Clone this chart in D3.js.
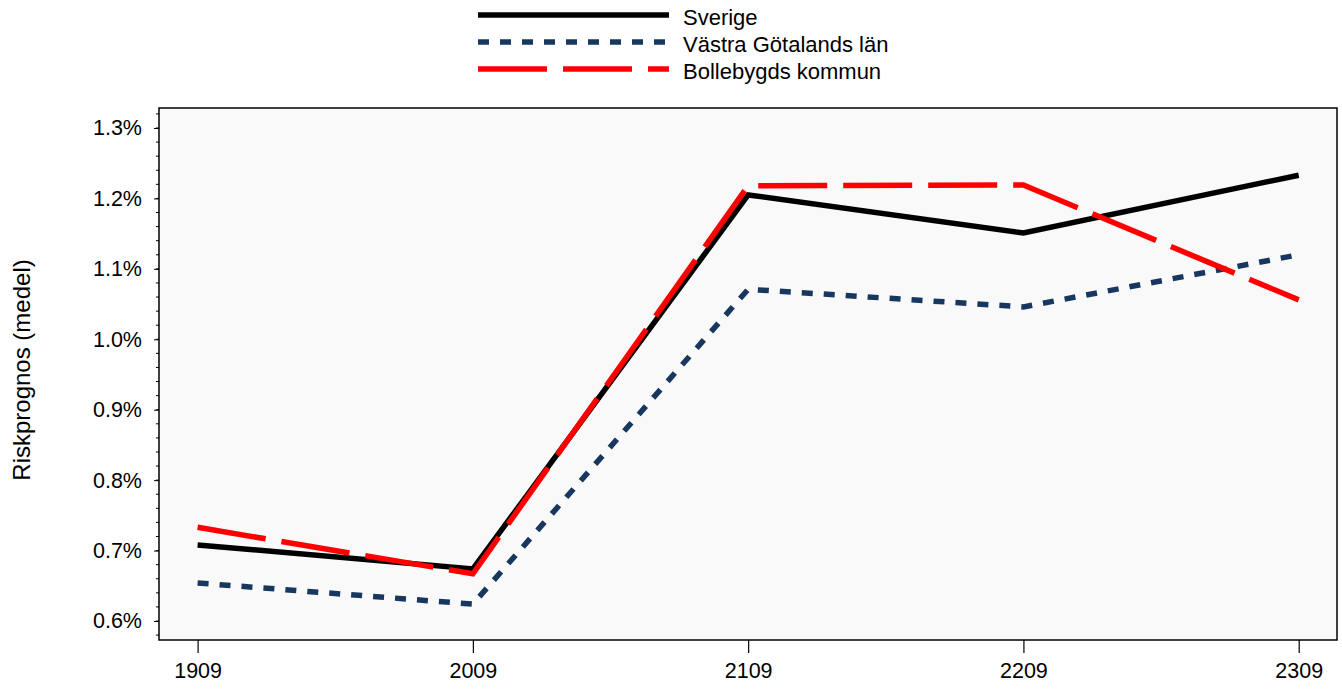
<!DOCTYPE html>
<html><head><meta charset="utf-8">
<script src="https://cdn.jsdelivr.net/npm/d3@7"></script>
<style>body{margin:0;background:#fff;} svg{display:block;font-family:"Liberation Sans",Arial,sans-serif;}</style>
</head><body>
<svg id="c" width="1342" height="693"></svg>
<script>
const categories = ["1909","2009","2109","2209","2309"];
const sverige = [0.708, 0.674, 1.205, 1.151, 1.233];
const vastra = [0.654, 0.624, 1.071, 1.046, 1.120];
const bollebygd = [0.733, 0.667, 1.218, 1.219, 1.056];
const yTicks = [0.6, 0.7, 0.8, 0.9, 1.0, 1.1, 1.2, 1.3];
const seriesNames = ["Sverige", "Västra Götalands län", "Bollebygds kommun"];

const series = [
  {name: seriesNames[0], values: sverige, color: "#000000", dash: null, w: 5.5},
  {name: seriesNames[1], values: vastra, color: "#17375e", dash: "11,11", w: 5.5},
  {name: seriesNames[2], values: bollebygd, color: "#ff0000", dash: "69,16", w: 5.5}
];

const svg = d3.select("#c");
const L = 159, R = 1337, T = 108, B = 640;

const x = d3.scalePoint().domain(categories).range([197.6, 1298.7]);
const y = d3.scaleLinear().domain([0.6, 1.3]).range([621, 128]);

svg.append("rect").attr("x", L).attr("y", T).attr("width", R - L).attr("height", B - T)
  .attr("fill", "#f9f9f9").attr("stroke", "#000").attr("stroke-width", 1.5);

// y axis
const minor = d3.range(0.58, 1.321, 0.02).filter(v => v >= y.invert(B) && v <= y.invert(T));
svg.append("g").selectAll("line").data(minor).join("line")
  .attr("x1", L - 3).attr("x2", L).attr("y1", d => y(d)).attr("y2", d => y(d))
  .attr("stroke", "#000").attr("stroke-width", 1);
const yAxis = svg.append("g").attr("transform", `translate(${L},0)`)
  .call(d3.axisLeft(y).tickValues(yTicks).tickFormat(d => d.toFixed(1) + "%").tickSize(5).tickPadding(12));
yAxis.select(".domain").remove();
yAxis.selectAll("text").attr("font-size", 21.5).attr("fill", "#000").attr("font-family", "Liberation Sans, Arial, sans-serif");
yAxis.selectAll("line").attr("stroke", "#000");

// x axis
const xAxis = svg.append("g").attr("transform", `translate(0,${B})`)
  .call(d3.axisBottom(x).tickSize(13).tickPadding(10));
xAxis.select(".domain").remove();
xAxis.selectAll("text").attr("font-size", 21.5).attr("fill", "#000").attr("font-family", "Liberation Sans, Arial, sans-serif");
xAxis.selectAll("line").attr("stroke", "#000").attr("stroke-width", 1.2);

// y title
svg.append("text").attr("transform", "translate(30,370) rotate(-90)")
  .attr("text-anchor", "middle").attr("font-size", 24).attr("fill", "#000").text("Riskprognos (medel)");

// lines
const line = d3.line().x((d, i) => x(categories[i])).y(d => y(d));
series.forEach(s => {
  svg.append("path").datum(s.values).attr("d", line)
    .attr("fill", "none").attr("stroke", s.color).attr("stroke-width", s.w)
    .attr("stroke-dasharray", s.dash).attr("stroke-linejoin", "miter");
});

// legend
const lg = svg.append("g");
series.forEach((s, i) => {
  const ly = 15 + i * 27;
  lg.append("line").attr("x1", 478).attr("x2", 669).attr("y1", ly).attr("y2", ly)
    .attr("stroke", s.color).attr("stroke-width", s.w).attr("stroke-dasharray", s.dash);
  lg.append("text").attr("x", 683).attr("y", ly + 2).attr("dy", "0.35em")
    .attr("font-size", 22).attr("fill", "#000").text(s.name);
});
</script>
</body></html>
